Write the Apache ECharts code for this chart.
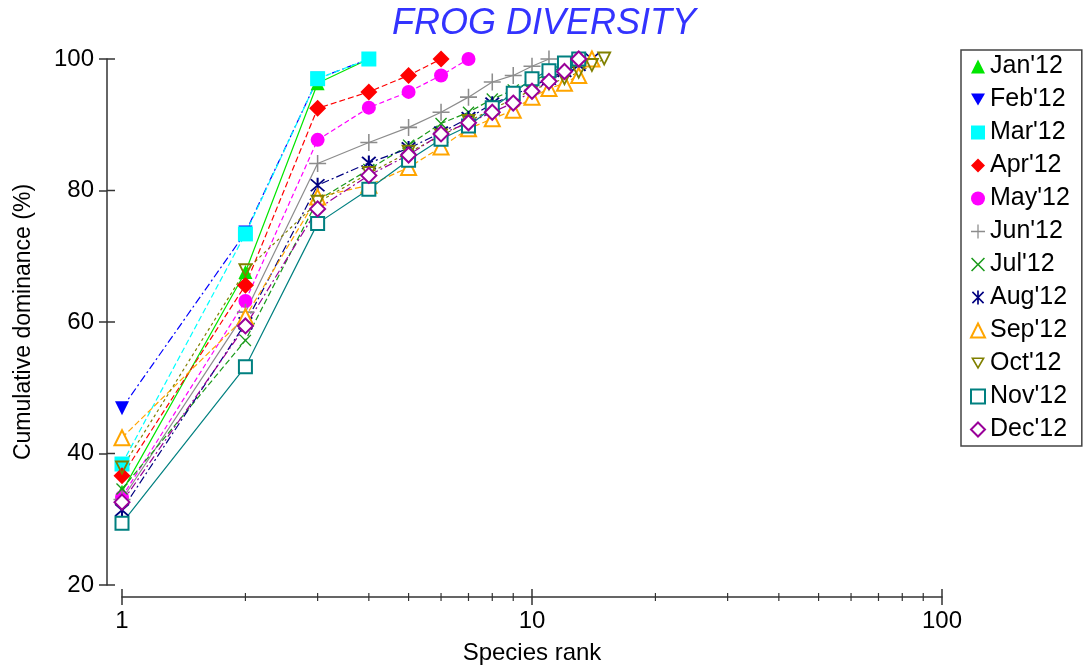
<!DOCTYPE html>
<html><head><meta charset="utf-8">
<script src="https://cdn.jsdelivr.net/npm/echarts@6/dist/echarts.min.js"></script>
<style>html,body{margin:0;padding:0;background:#fff}#c{width:1088px;height:668px}</style>
</head><body><div id="c"></div>
<script>
const months = ["Jan'12","Feb'12","Mar'12","Apr'12","May'12","Jun'12","Jul'12","Aug'12","Sep'12","Oct'12","Nov'12","Dec'12"];
const ranks = [1,2,3,4,5,6,7,8,9,10,11,12,13,14,15];
const yTicks = [20,40,60,80,100];
const xMajorTicks = [1,10,100];
const xMinorTicks = [2,3,4,5,6,7,8,9,20,30,40,50,60,70,80,90];

const jan = [34.2, 67.6, 96.3, 100];
const feb = [46.9, 73.6, 97.0, 100];
const mar = [38.4, 73.4, 97.0, 100];
const apr = [36.6, 65.6, 92.5, 95.0, 97.5, 100];
const may = [33.4, 63.2, 87.7, 92.6, 95.0, 97.5, 100];
const jun = [33.0, 61.5, 84.1, 87.3, 89.6, 91.9, 94.2, 96.5, 97.5, 98.9, 100];
const jul = [34.6, 57.2, 78.5, 83.2, 86.9, 90.2, 91.9, 93.9, 95.3, 96.6, 97.8, 99.0, 100];
const aug = [31.4, 59.8, 80.8, 84.2, 86.4, 88.8, 91.0, 93.2, 94.5, 95.8, 97.0, 98.2, 99.1, 100];
const sep = [42.4, 60.8, 79.0, 80.8, 83.5, 86.6, 89.4, 90.9, 92.2, 94.2, 95.5, 96.3, 97.5, 100];
const oct = [37.8, 67.8, 78.2, 82.6, 85.8, 88.3, 90.5, 92.4, 93.9, 95.3, 96.2, 97.0, 98.0, 99.0, 100];
const nov = [29.4, 53.2, 75.0, 80.2, 84.6, 87.8, 89.8, 92.6, 94.8, 97.0, 98.2, 99.4, 100];
const dec = [32.6, 59.4, 77.2, 82.3, 85.4, 88.6, 90.3, 91.9, 93.3, 95.1, 96.6, 98.1, 100];

const allData = [jan,feb,mar,apr,may,jun,jul,aug,sep,oct,nov,dec];
const colors = ['#00E600','#0000FF','#00FFFF','#FF0000','#FF00FF','#8C8C8C','#1A9A1A','#000080','#FFA500','#808000','#008080','#990099'];

const PLUS = 'path://M4.55,0H5.45V4.55H10V5.45H5.45V10H4.55V5.45H0V4.55H4.55Z';
const CROSS = 'path://M0,0.8L0.8,0L5,4.2L9.2,0L10,0.8L5.8,5L10,9.2L9.2,10L5,5.8L0.8,10L0,9.2L4.2,5Z';
const STAR = 'path://M4.4,0H5.6V10H4.4Z M0.6,1.4L1.4,0.6L9.4,8.6L8.6,9.4Z M8.6,0.6L9.4,1.4L1.4,9.4L0.6,8.6Z';
const DOWN = 'path://M0,0H10L5,8.66Z';
const EMPTY_DOWN = 'path://M0,0H10L5,8.66Z M2.0,1.15L5,6.35L8.0,1.15Z';

const symbols = ['triangle', DOWN, 'rect', 'diamond', 'circle', PLUS, CROSS, STAR, 'emptyTriangle', EMPTY_DOWN, 'emptyRect', 'emptyDiamond'];
const sizes = [14, 14, 15, 17, 14, 17, 12, 15, 15, 15, 13, 15];
const dashDot = [8,3,2,3];
const lineTypes = ['solid', dashDot, [6,3], [6,3], [5,3], 'solid', [6,3], dashDot, [6,3], [3,3], 'solid', dashDot];

const series = months.map((m, i) => ({
  name: m,
  type: 'line',
  data: allData[i].map((v, j) => [ranks[j], v]),
  symbol: symbols[i],
  symbolSize: sizes[i],
  showAllSymbol: true,
  clip: false,
  color: colors[i],
  itemStyle: { color: colors[i], borderWidth: symbols[i].indexOf('empty') === 0 ? 2 : 0 },
  lineStyle: { color: colors[i], width: 1.2, type: lineTypes[i] },
  emphasis: { disabled: true },
  animation: false
}));

const chart = echarts.init(document.getElementById('c'), null, { renderer: 'canvas' });
const FONT = 'Liberation Sans';
const axisColor = '#333';
chart.setOption({
  animation: false,
  backgroundColor: '#fff',
  title: {
    text: 'FROG DIVERSITY', left: 'center', top: 6, padding: 0,
    textStyle: { fontFamily: FONT, fontSize: 36, fontStyle: 'italic', fontWeight: 'normal', color: '#3333FF' }
  },
  legend: {
    orient: 'vertical', left: 961, top: 50,
    padding: [4, 12, 4, 9],
    itemWidth: 14, itemHeight: 14, itemGap: 8, itemTextGap: 19,
    borderColor: '#444', borderWidth: 1.5,
    textStyle: { fontFamily: FONT, fontSize: 25, lineHeight: 24, color: '#000' },
    data: months.map((m, i) => ({ name: m, icon: symbols[i] })),
    selectedMode: false
  },
  grid: { left: 122, right: 146, top: 59, bottom: 83, containLabel: false, outerBoundsMode: 'none' },
  xAxis: {
    type: 'log', logBase: 10, min: 1, max: 100, offset: 12,
    name: 'Species rank', nameLocation: 'middle', nameGap: 44,
    nameTextStyle: { fontFamily: FONT, fontSize: 24, color: '#000' },
    axisLine: { show: true, lineStyle: { color: axisColor, width: 1.5 } },
    axisTick: { show: true, length: 8, lineStyle: { color: axisColor, width: 1.5 } },
    axisLabel: { fontFamily: FONT, fontSize: 24, color: '#000', margin: 12 },
    splitLine: { show: false }
  },
  yAxis: {
    type: 'value', min: 20, max: 100, interval: 20, offset: 15,
    name: 'Cumulative dominance (%)', nameLocation: 'middle', nameGap: 72, nameRotate: 90,
    nameTextStyle: { fontFamily: FONT, fontSize: 23, color: '#000' },
    axisLine: { show: true, lineStyle: { color: axisColor, width: 1.5 } },
    axisTick: { show: true, length: 8, lineStyle: { color: axisColor, width: 1.5 } },
    axisLabel: { fontFamily: FONT, fontSize: 24, color: '#000', margin: 13 },
    splitLine: { show: false }
  },
  series: series
});

// inside halves of crossing ticks and the log minor ticks, placed through the axis scales
const xAxisY = chart.convertToPixel({ yAxisIndex: 0 }, 20) + 12;
const yAxisX = chart.convertToPixel({ xAxisIndex: 0 }, 1) - 15;
const g = [];
const tickStyle = { stroke: axisColor, lineWidth: 1.5 };
yTicks.forEach(v => {
  const py = chart.convertToPixel({ yAxisIndex: 0 }, v);
  g.push({ type: 'line', shape: { x1: yAxisX, y1: py, x2: yAxisX + 8, y2: py }, style: tickStyle, silent: true });
});
xMajorTicks.forEach(v => {
  const px = chart.convertToPixel({ xAxisIndex: 0 }, v);
  g.push({ type: 'line', shape: { x1: px, y1: xAxisY, x2: px, y2: xAxisY - 8 }, style: tickStyle, silent: true });
});
xMinorTicks.forEach(v => {
  const px = chart.convertToPixel({ xAxisIndex: 0 }, v);
  g.push({ type: 'line', shape: { x1: px, y1: xAxisY - 4, x2: px, y2: xAxisY + 4 }, style: { stroke: axisColor, lineWidth: 1.2 }, silent: true });
});
chart.setOption({ graphic: g });
</script></body></html>
